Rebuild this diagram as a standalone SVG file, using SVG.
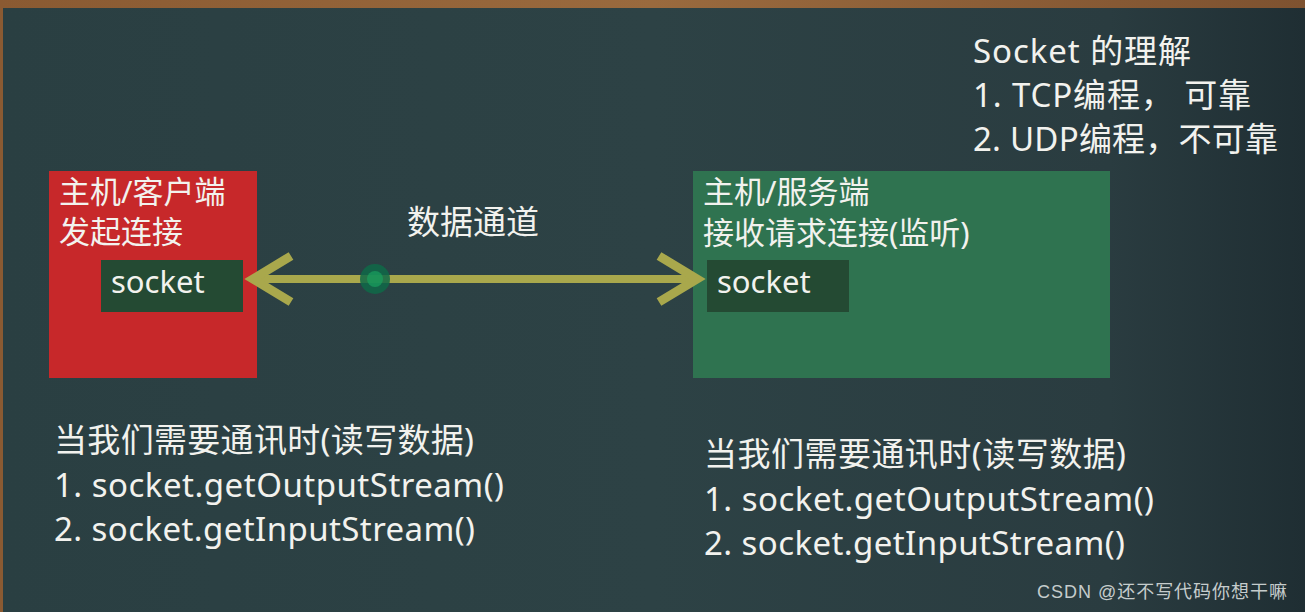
<svg xmlns="http://www.w3.org/2000/svg" width="1305" height="612" viewBox="0 0 1305 612">
  <defs>
    <linearGradient id="board" x1="0" y1="0" x2="1" y2="0">
      <stop offset="0" stop-color="#2a3f42"/>
      <stop offset="0.5" stop-color="#2d4245"/>
      <stop offset="0.85" stop-color="#2a3c40"/>
      <stop offset="1" stop-color="#1f2e33"/>
    </linearGradient>
    <linearGradient id="wood" x1="0" y1="0" x2="1" y2="0">
      <stop offset="0" stop-color="#8a5a32"/>
      <stop offset="0.5" stop-color="#9a6a3e"/>
      <stop offset="1" stop-color="#7e5230"/>
    </linearGradient>
    <style>
      .txt { font-family: "Noto Sans", "Noto Sans CJK SC", sans-serif; fill: #f2f2ee; }
      .lbl { font-size: 31px; }
      .big { font-size: 33px; }
      .sock { font-size: 31px; }
      .inner { fill: #244a33; }
      .conn { fill: none; stroke: #a9a84c; stroke-width: 8; }
      .head { fill: none; stroke: #a9a84c; stroke-width: 9; stroke-linejoin: miter; stroke-miterlimit: 10; }
      .wm { font-family: "Liberation Sans", "Noto Sans CJK SC", sans-serif; font-size: 18px; fill: #c5cccc; }
    </style>
  </defs>

  <!-- board -->
  <rect x="0" y="0" width="1305" height="612" fill="url(#board)"/>
  <rect x="0" y="0" width="1305" height="8" fill="url(#wood)"/>
  <rect x="0" y="0" width="3" height="612" fill="#8a5a32"/>

  <!-- client node -->
  <g id="client">
    <rect x="49" y="171" width="208" height="207" fill="#c7282a"/>
    <text class="txt lbl" x="59" y="203">主机/客户端</text>
    <text class="txt lbl" x="59" y="243">发起连接</text>
    <rect class="inner" x="101" y="260" width="142" height="52"/>
    <text class="txt sock" x="111" y="293">socket</text>
  </g>

  <!-- server node -->
  <g id="server">
    <rect x="693" y="171" width="417" height="207" fill="#2f7350"/>
    <text class="txt lbl" x="703" y="203">主机/服务端</text>
    <text class="txt lbl" x="703" y="244">接收请求连接(监听)</text>
    <rect class="inner" x="707" y="260" width="142" height="52"/>
    <text class="txt sock" x="717" y="293">socket</text>
  </g>

  <!-- connectors (drawn over the nodes) -->
  <g id="connectors">
    <line class="conn" x1="251" y1="279" x2="699" y2="279"/>
    <path class="head" d="M 291 256 L 253 279 L 291 302"/>
    <path class="head" d="M 659 256 L 697 279 L 659 302"/>
    <circle cx="375" cy="279" r="15" fill="#0f6a48" opacity="0.85"/>
    <circle cx="375" cy="279" r="8" fill="#1aa15e" opacity="0.7"/>
  </g>

  <!-- channel label -->
  <g id="channel-label">
    <text class="txt big" x="407" y="234">数据通道</text>
  </g>

  <!-- socket understanding -->
  <g id="socket-notes">
    <text class="txt big" x="973" y="63" textLength="218" lengthAdjust="spacing">Socket 的理解</text>
    <text class="txt big" x="973" y="107" textLength="278" lengthAdjust="spacing">1. TCP编程，  可靠</text>
    <text class="txt big" x="973" y="151" textLength="305" lengthAdjust="spacing">2. UDP编程，不可靠</text>
  </g>

  <!-- client notes -->
  <g id="client-notes">
    <text class="txt big" x="54" y="452" textLength="420" lengthAdjust="spacing">当我们需要通讯时(读写数据)</text>
    <text class="txt big" x="54" y="497" textLength="450" lengthAdjust="spacing">1. socket.getOutputStream()</text>
    <text class="txt big" x="54" y="541" textLength="421" lengthAdjust="spacing">2. socket.getInputStream()</text>
  </g>

  <!-- server notes -->
  <g id="server-notes">
    <text class="txt big" x="704" y="466" textLength="422" lengthAdjust="spacing">当我们需要通讯时(读写数据)</text>
    <text class="txt big" x="704" y="511" textLength="450" lengthAdjust="spacing">1. socket.getOutputStream()</text>
    <text class="txt big" x="704" y="555" textLength="421" lengthAdjust="spacing">2. socket.getInputStream()</text>
  </g>

  <!-- watermark -->
  <g id="watermark">
    <text class="wm" x="1037" y="598" textLength="250" lengthAdjust="spacing">CSDN @还不写代码你想干嘛</text>
  </g>
</svg>
